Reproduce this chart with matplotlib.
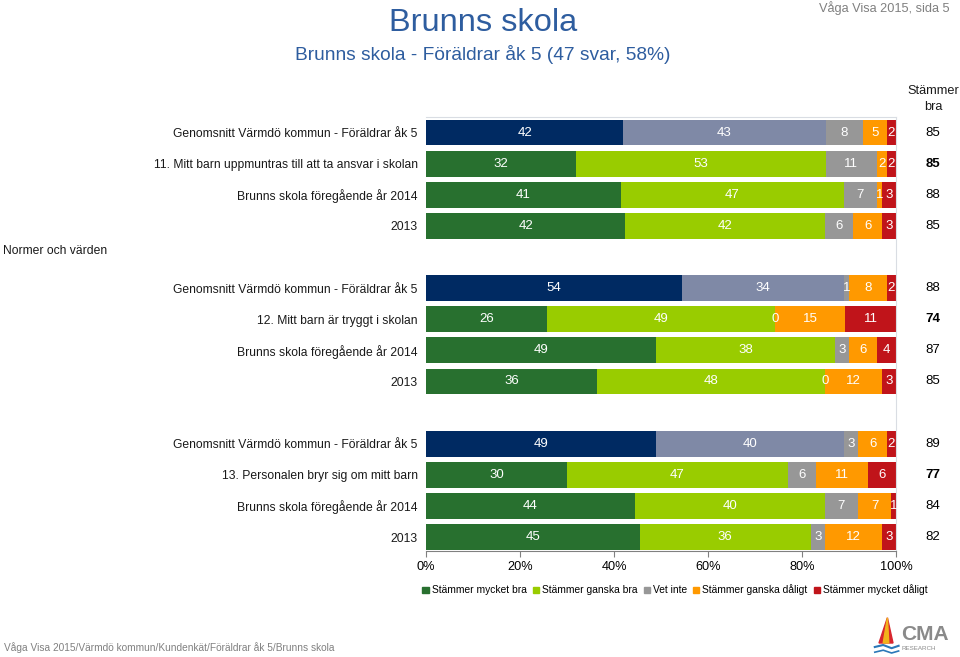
import matplotlib
matplotlib.use("Agg")
import matplotlib.pyplot as plt
import numpy as np
from matplotlib.patches import Polygon

plt.rcParams['font.family'] = ['Liberation Sans', 'DejaVu Sans']

row_labels = [
    "Genomsnitt Värmdö kommun - Föräldrar åk 5",
    "11. Mitt barn uppmuntras till att ta ansvar i skolan",
    "Brunns skola föregående år 2014",
    "2013",
    "",
    "Genomsnitt Värmdö kommun - Föräldrar åk 5",
    "12. Mitt barn är tryggt i skolan",
    "Brunns skola föregående år 2014",
    "2013",
    "",
    "Genomsnitt Värmdö kommun - Föräldrar åk 5",
    "13. Personalen bryr sig om mitt barn",
    "Brunns skola föregående år 2014",
    "2013",
]
mycket_bra = [42, 32, 41, 42, None, 54, 26, 49, 36, None, 49, 30, 44, 45]
ganska_bra = [43, 53, 47, 42, None, 34, 49, 38, 48, None, 40, 47, 40, 36]
vet_inte = [8, 11, 7, 6, None, 1, 0, 3, 0, None, 3, 6, 7, 3]
ganska_daligt = [5, 2, 1, 6, None, 8, 15, 6, 12, None, 6, 11, 7, 12]
mycket_daligt = [2, 2, 3, 3, None, 2, 11, 4, 3, None, 2, 6, 1, 3]
stammer_bra = [85, 85, 88, 85, None, 88, 74, 87, 85, None, 89, 77, 84, 82]
is_average = [True, False, False, False, False, True, False, False, False, False, True, False, False, False]
is_question = [False, True, False, False, False, False, True, False, False, False, False, True, False, False]

legend_labels = ["Stämmer mycket bra", "Stämmer ganska bra", "Vet inte",
                 "Stämmer ganska dåligt", "Stämmer mycket dåligt"]
colors = ["#28702F", "#99CC00", "#979797", "#FF9900", "#C0141A"]
avg_colors = ["#002A62", "#7F89A6", "#979797", "#FF9900", "#C0141A"]

fig = plt.figure(figsize=(9.6, 6.57), dpi=100)
ax = fig.add_axes([0.4438, 0.1613, 0.4896, 0.6607])

series = [mycket_bra, ganska_bra, vet_inte, ganska_daligt, mycket_daligt]
n = len(row_labels)
ys = np.arange(n)
for i in range(n):
    if mycket_bra[i] is None:
        continue
    vals = [s[i] for s in series]
    tot = sum(vals)
    left = 0.0
    cols = avg_colors if is_average[i] else colors
    for j, v in enumerate(vals):
        w = v / tot * 100
        ax.barh(ys[i], w, left=left, height=0.83, color=cols[j], edgecolor='none')
        ax.text(left + w / 2, ys[i], str(v), ha='center', va='center',
                color='white', fontsize=9.5)
        left += w
    ax.text(1.0 + 37 / 470, ys[i], str(stammer_bra[i]), transform=ax.get_yaxis_transform(),
            ha='center', va='center', fontsize=9.5, color='black',
            fontweight='bold' if is_question[i] else 'normal')

ax.set_xlim(0, 100)
ax.set_ylim(13.45, -0.5)
ax.set_yticks(ys)
ax.set_yticklabels(row_labels, fontsize=8.7, color='#1a1a1a')
ax.tick_params(axis='y', length=0, pad=6)
ax.set_xticks([0, 20, 40, 60, 80, 100])
ax.set_xticklabels(["0%", "20%", "40%", "60%", "80%", "100%"], fontsize=9.2)
ax.tick_params(axis='x', length=4, color='#808080')
for s in ['top', 'right']:
    ax.spines[s].set_color('#D9DDE3')
ax.spines['left'].set_visible(False)
ax.spines['bottom'].set_color('#808080')

fig.text(0.003, 1 - 251 / 657, "Normer och värden", fontsize=8.7, color='#1a1a1a',
         ha='left', va='center')
fig.text(483 / 960, 1 - 23 / 657, "Brunns skola", fontsize=23.4, color='#2E5D9F',
         ha='center', va='center')
fig.text(483 / 960, 1 - 54 / 657, "Brunns skola - Föräldrar åk 5 (47 svar, 58%)",
         fontsize=13.8, color='#2E5D9F', ha='center', va='center')
fig.text(950 / 960, 1 - 8 / 657, "Våga Visa 2015, sida 5", fontsize=9.2, color='#808080',
         ha='right', va='center')
fig.text(933 / 960, 1 - 99 / 657, "Stämmer\nbra", fontsize=9.2, color='#1a1a1a',
         ha='center', va='center', linespacing=1.4)
fig.text(4 / 960, 1 - 648 / 657, "Våga Visa 2015/Värmdö kommun/Kundenkät/Föräldrar åk 5/Brunns skola",
         fontsize=7.3, color='#808080', ha='left', va='center')

# legend
handles = [plt.Rectangle((0, 0), 1, 1, color=c) for c in colors]
fig.legend(handles, legend_labels, loc='center', bbox_to_anchor=(675 / 960, 1 - 590 / 657),
           ncol=5, frameon=False, fontsize=7.4, handlelength=0.6, handleheight=0.6,
           handletextpad=0.3, columnspacing=0.6)

# logo
fig.text(901 / 960, 1 - 634 / 657, "CMA", fontsize=15, color='#8a8a8a', ha='left',
         va='center', fontweight='bold')
fig.text(901 / 960, 1 - 648 / 657, "RESEARCH", fontsize=4.5, color='#8a8a8a', ha='left',
         va='center')
lax = fig.add_axes([872 / 960, 1 - 657 / 657, 28 / 960, 40 / 657])
lax.set_xlim(0, 1)
lax.set_ylim(0, 1)
lax.axis('off')
lax.add_patch(Polygon([[0.55, 0.98], [0.25, 0.35], [0.75, 0.35]], closed=True, color='#D8262E'))
lax.add_patch(Polygon([[0.55, 0.98], [0.4, 0.35], [0.6, 0.35]], closed=True, color='#F2B31B'))
lax.plot([0.1, 0.4, 0.7, 0.95], [0.25, 0.3, 0.22, 0.28], color='#2B78B8', lw=1.5)
lax.plot([0.1, 0.4, 0.7, 0.95], [0.12, 0.17, 0.1, 0.15], color='#2B78B8', lw=1.2)

fig.savefig("out.png", dpi=100)
